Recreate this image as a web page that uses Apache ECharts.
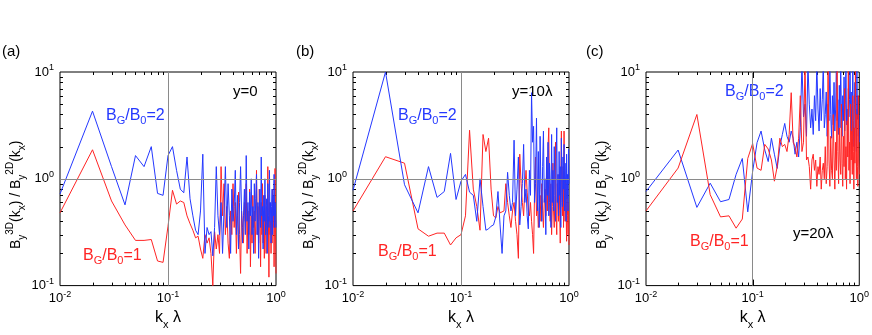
<!DOCTYPE html>
<html lang="en">
  <head>
    <meta charset="UTF-8" />
    <title>By 3D / 2D spectra ratio</title>
    <script src="https://cdn.jsdelivr.net/npm/echarts@6.0.0/dist/echarts.min.js"></script>
  </head>
  <body style="margin: 0">
    <style>
      #chart {
        width: 872px;
        height: 335px;
      }
    </style>
    <div id="chart"></div>

    <script>
      // k_x lambda grid
      const kx = [
        0.01, 0.02, 0.03, 0.04, 0.05, 0.06, 0.07, 0.08, 0.09, 0.1,
        0.11, 0.12, 0.13, 0.14, 0.15, 0.16, 0.17, 0.18, 0.19, 0.2,
        0.21, 0.22, 0.23, 0.24, 0.25, 0.26, 0.27, 0.28, 0.29, 0.3,
        0.31, 0.32, 0.33, 0.34, 0.35, 0.36, 0.37, 0.38, 0.39, 0.4,
        0.41, 0.42, 0.43, 0.44, 0.45, 0.46, 0.47, 0.48, 0.49, 0.5,
        0.51, 0.52, 0.53, 0.54, 0.55, 0.56, 0.57, 0.58, 0.59, 0.6,
        0.61, 0.62, 0.63, 0.64, 0.65, 0.66, 0.67, 0.68, 0.69, 0.7,
        0.71, 0.72, 0.73, 0.74, 0.75, 0.76, 0.77, 0.78, 0.79, 0.8,
        0.81, 0.82, 0.83, 0.84, 0.85, 0.86, 0.87, 0.88, 0.89, 0.9,
        0.91, 0.92, 0.93, 0.94, 0.95, 0.96, 0.97, 0.98, 0.99, 1.0
      ];

      // (a) y=0
      const blueA = [
        0.72, 4.3, 1.3, 0.57, 1.65, 1.3, 2.0, 0.73, 0.7, 1.65,
        2.0, 1.2, 0.8, 0.74, 1.6, 0.65, 0.45, 0.33, 0.3, 0.5,
        1.7, 0.2, 0.35, 0.3, 0.32, 0.19, 0.35, 1.3, 0.45, 0.3,
        0.6, 0.2, 0.5, 1.3, 0.35, 0.9, 0.45, 0.2, 0.8, 0.4,
        0.55, 1.2, 0.3, 0.7, 0.22, 0.6, 1.3, 0.5, 0.25, 0.45,
        0.8, 0.3, 1.65, 0.4, 0.6, 0.22, 0.75, 0.45, 1.0, 0.3,
        0.55, 0.2, 0.9, 0.4, 0.65, 1.1, 0.3, 0.6, 0.18, 0.5,
        0.8, 0.35, 1.6, 0.45, 0.55, 0.22, 0.7, 0.4, 1.0, 0.3,
        0.5, 0.65, 0.2, 0.9, 0.45, 0.35, 1.2, 0.4, 0.6, 0.25,
        0.55, 0.8, 0.3, 0.7, 0.45, 1.1, 0.35, 0.6, 0.5, 0.35
      ];
      const redA = [
        0.48, 1.87, 0.62, 0.37, 0.265, 0.265, 0.27, 0.17, 0.165, 0.36,
        0.78, 0.58, 0.62, 0.6, 0.45, 0.38, 0.33, 0.28, 0.29, 0.22,
        0.18, 0.3, 0.25, 0.28, 0.2, 0.1, 0.32, 0.22, 0.3, 0.2,
        1.3, 0.45, 0.9, 0.3, 0.55, 0.25, 0.18, 0.5, 0.3, 0.9,
        0.35, 0.6, 0.2, 0.45, 0.75, 0.3, 0.13, 0.5, 0.35, 0.25,
        0.6, 0.4, 0.9, 0.2, 0.5, 0.3, 0.8, 0.15, 0.45, 0.25,
        0.7, 0.35, 0.5, 0.2, 0.4, 1.2, 0.3, 0.55, 0.25, 0.8,
        0.4, 0.15, 0.6, 0.3, 0.9, 0.25, 0.5, 0.18, 0.7, 0.35,
        0.2, 0.55, 0.3, 1.3, 0.45, 0.12, 0.6, 0.3, 0.4, 0.2,
        0.5, 0.25, 0.8, 0.35, 0.6, 0.15, 0.45, 1.25, 0.3, 0.13
      ];

      // (b) y=10 lambda
      const blueB = [
        0.78, 10, 0.88, 0.48, 1.3, 0.67, 0.76, 1.73, 0.64, 0.95,
        1.1, 0.75, 0.7, 0.4, 1.0, 0.55, 0.33, 0.34, 0.36, 0.37,
        0.44, 0.76, 0.37, 0.2, 0.45, 0.5, 1.15, 0.7, 0.5, 0.6,
        2.3, 0.45, 0.8, 1.6, 0.37, 0.55, 0.9, 2.1, 0.6, 0.8,
        0.45, 0.34, 1.2, 0.7, 6.4, 2.2, 3.1, 0.6, 0.9, 3.7,
        0.5, 1.8, 0.35, 2.5, 0.8, 0.4, 1.3, 2.8, 0.6, 1.0,
        0.3, 1.6, 0.7, 2.2, 0.45, 1.4, 0.9, 0.35, 2.6, 0.6,
        1.2, 0.5, 2.0, 0.8, 0.4, 1.5, 3.0, 0.6, 1.1, 0.45,
        1.8, 0.7, 1.3, 0.35, 2.4, 0.9, 0.55, 1.6, 0.8, 2.1,
        0.5, 1.4, 0.9, 0.4, 1.7, 0.65, 1.1, 0.5, 1.9, 0.9
      ];
      const redB = [
        0.5, 1.61, 1.4, 0.34, 0.29, 0.31, 0.31, 0.24, 0.28, 0.3,
        0.45, 2.85, 0.8, 0.55, 0.33, 2.6, 1.8, 2.4, 0.8, 0.45,
        0.43, 0.55, 0.48, 0.5, 0.5, 0.9, 0.6, 0.45, 0.35, 0.5,
        0.6, 0.4, 0.3, 0.18, 1.7, 0.9, 0.6, 0.45, 0.8, 1.2,
        0.75, 0.5, 0.45, 0.6, 0.4, 0.3, 0.2, 0.8, 1.6, 0.45,
        0.6, 0.35, 0.5, 0.7, 0.4, 0.9, 0.5, 0.35, 0.6, 0.8,
        0.45, 1.2, 0.5, 2.0, 3.0, 0.6, 0.4, 0.9, 0.3, 0.55,
        1.4, 0.5, 0.35, 0.7, 2.2, 0.45, 0.3, 0.9, 0.6, 0.4,
        1.1, 0.5, 0.25, 0.8, 2.8, 0.6, 0.45, 1.3, 0.35, 2.8,
        0.7, 0.4, 1.0, 0.5, 0.26, 0.9, 0.45, 0.3, 0.6, 0.24
      ];

      // (c) y=20 lambda
      const blueC = [
        0.76, 1.86, 0.54, 0.91, 0.61, 0.64, 1.1, 1.55, 0.49, 1.17,
        2.18, 2.8, 1.86, 1.45, 2.4, 1.7, 1.25, 2.0, 2.6, 3.3,
        2.5, 2.2, 2.8, 2.4, 1.7, 2.2, 1.6, 3.0, 12, 3.8,
        5.0, 2.5, 12, 5.0, 3.0, 4.5, 2.6, 6.0, 3.5, 12,
        4.5, 2.8, 7.0, 3.5, 5.5, 12, 3.0, 4.0, 6.5, 2.5,
        5.0, 3.5, 12, 4.0, 2.4, 6.0, 3.2, 8.0, 2.8, 4.5,
        12, 3.5, 5.5, 2.6, 7.5, 3.0, 12, 4.0, 2.5, 6.0,
        3.5, 9.0, 2.8, 5.0, 12, 3.2, 4.5, 2.2, 7.0, 3.8,
        5.5, 12, 3.0, 6.5, 2.6, 4.2, 12, 3.5, 2.0, 5.0,
        8.0, 3.0, 4.5, 1.8, 12, 3.6, 6.0, 2.5, 4.0, 2.2
      ];
      const redC = [
        0.5, 1.26, 4.0, 0.71, 0.44, 0.45, 0.345, 0.42, 1.55, 2.14,
        1.26, 1.2, 2.1, 1.9, 1.5, 0.95, 1.3, 2.4, 2.0, 2.1,
        1.8, 2.6, 6.4, 2.2, 2.0, 1.6, 2.4, 6.0, 1.8, 2.2,
        12, 1.5, 1.6, 1.3, 0.8, 1.5, 1.7, 1.2, 1.5, 0.85,
        1.3, 1.1, 1.6, 0.8, 1.2, 1.4, 1.0, 2.0, 0.9, 1.3,
        12, 1.5, 0.85, 2.5, 1.2, 1.0, 4.0, 1.6, 0.8, 2.2,
        1.2, 12, 1.8, 0.9, 3.0, 1.5, 1.1, 5.0, 1.4, 0.85,
        2.5, 1.3, 7.0, 1.0, 2.0, 0.8, 3.5, 1.6, 12, 1.2,
        2.2, 0.9, 5.0, 1.5, 2.8, 1.1, 6.0, 1.8, 0.8, 3.0,
        1.4, 12, 2.0, 1.0, 4.0, 1.3, 0.85, 6.0, 1.5, 1.1
      ];

      // tick marks inside the frame
      const xMinorTicks = [0.02, 0.03, 0.04, 0.05, 0.06, 0.07, 0.08, 0.09, 0.2, 0.3, 0.4, 0.5, 0.6, 0.7, 0.8, 0.9];
      const yMinorTicks = [0.2, 0.3, 0.4, 0.5, 0.6, 0.7, 0.8, 0.9, 2, 3, 4, 5, 6, 7, 8, 9];
      const xMajorTicks = [0.1];
      const yMajorTicks = [1];

      const BLUE = '#2438ff';
      const RED = '#ff2424';
      const FONT = 'Liberation Sans, Arial, sans-serif';

      const panels = [
        { tag: '(a)', note: 'y=0', blue: blueA, red: redA, left: 60, redOnTop: false,
          tagPos: [2, 44], notePos: [233, 84], bluePos: [106, 108], redPos: [83, 248] },
        { tag: '(b)', note: 'y=10λ', blue: blueB, red: redB, left: 353, redOnTop: false,
          tagPos: [296, 44], notePos: [512, 84], bluePos: [398, 108], redPos: [378, 244] },
        { tag: '(c)', note: 'y=20λ', blue: blueC, red: redC, left: 646, redOnTop: true,
          tagPos: [586, 44], notePos: [793, 226], bluePos: [725, 84], redPos: [690, 234] }
      ];

      const tickRich = {
        b: { fontSize: 13, lineHeight: 18, fontFamily: FONT, color: '#000' },
        s: { fontSize: 9, lineHeight: 9, verticalAlign: 'top', fontFamily: FONT, color: '#000' }
      };
      const nameRich = {
        b: { fontSize: 14, lineHeight: 22, fontFamily: FONT, color: '#000' },
        sub: { fontSize: 10, lineHeight: 10, verticalAlign: 'bottom', fontFamily: FONT, color: '#000' },
        sup: { fontSize: 10, lineHeight: 10, verticalAlign: 'top', fontFamily: FONT, color: '#000' }
      };
      const xNameRich = {
        b: { fontSize: 16, lineHeight: 24, fontFamily: FONT, color: '#000' },
        sub: { fontSize: 11, lineHeight: 11, verticalAlign: 'bottom', fontFamily: FONT, color: '#000' }
      };
      function labelRich(color) {
        return {
          b: { fontSize: 16, lineHeight: 20, fontFamily: FONT, color: color },
          s: { fontSize: 11, lineHeight: 11, verticalAlign: 'bottom', fontFamily: FONT, color: color }
        };
      }
      const powLabel = (v) => '{b|10}{s|' + Math.round(Math.log10(v)) + '}';

      const tickData = [];
      xMinorTicks.forEach((v) => tickData.push([v, 1, 0, 0]));
      xMajorTicks.forEach((v) => tickData.push([v, 1, 0, 1]));
      yMinorTicks.forEach((v) => tickData.push([0.1, v, 1, 0]));
      yMajorTicks.forEach((v) => tickData.push([0.1, v, 1, 1]));

      function renderTick(params, api) {
        const cs = params.coordSys;
        const isY = api.value(2) === 1;
        const len = api.value(3) === 1 ? 6 : 3;
        const style = { stroke: '#000', lineWidth: 1 };
        if (!isY) {
          const x = Math.round(api.coord([api.value(0), 1])[0]) + 0.5;
          const b = cs.y + cs.height;
          return {
            type: 'group',
            children: [
              { type: 'line', shape: { x1: x, y1: b, x2: x, y2: b - len }, style },
              { type: 'line', shape: { x1: x, y1: cs.y, x2: x, y2: cs.y + len }, style }
            ]
          };
        }
        const y = Math.round(api.coord([0.1, api.value(1)])[1]) + 0.5;
        const r = cs.x + cs.width;
        return {
          type: 'group',
          children: [
            { type: 'line', shape: { x1: cs.x, y1: y, x2: cs.x + len, y2: y }, style },
            { type: 'line', shape: { x1: r, y1: y, x2: r - len, y2: y }, style }
          ]
        };
      }

      const grid = [], xAxis = [], yAxis = [], series = [], graphic = [];

      panels.forEach((p, i) => {
        grid.push({
          left: p.left, top: 72, width: 216, height: 216,
          show: true, borderColor: '#000', borderWidth: 1, backgroundColor: 'transparent'
        });
        xAxis.push({
          type: 'log', logBase: 10, min: 0.01, max: 1, gridIndex: i,
          axisLine: { show: false }, axisTick: { show: false }, splitLine: { show: false },
          axisLabel: { formatter: powLabel, rich: tickRich, margin: 4 },
          name: '{b|k}{sub|x}{b| λ}', nameLocation: 'middle', nameGap: 16,
          nameTextStyle: { rich: xNameRich }
        });
        yAxis.push({
          type: 'log', logBase: 10, min: 0.1, max: 10, gridIndex: i,
          axisLine: { show: false }, axisTick: { show: false }, splitLine: { show: false },
          axisLabel: { formatter: powLabel, rich: tickRich, margin: 6 },
          name: '{b|B}{sub|y}{sup|3D}{b|(k}{sub|x}{b|) / B}{sub|y}{sup|2D}{b|(k}{sub|x}{b|)}',
          nameLocation: 'middle', nameGap: 26, nameRotate: 90,
          nameTextStyle: { rich: nameRich, padding: [0, 32, 0, 0] }
        });
        series.push({
          type: 'custom', xAxisIndex: i, yAxisIndex: i, silent: true, z: 1,
          renderItem: renderTick, data: tickData,
          markLine: {
            silent: true, symbol: 'none', label: { show: false },
            lineStyle: { color: '#8a8a8a', width: 1, type: 'solid' },
            data: [{ xAxis: 0.1 }, { yAxis: 1 }]
          }
        });
        series.push({
          type: 'line', xAxisIndex: i, yAxisIndex: i, showSymbol: false, z: p.redOnTop ? 3 : 4,
          lineStyle: { color: BLUE, width: 1 }, itemStyle: { color: BLUE },
          data: p.blue.map((v, j) => [kx[j], v])
        });
        series.push({
          type: 'line', xAxisIndex: i, yAxisIndex: i, showSymbol: false, z: p.redOnTop ? 4 : 3,
          lineStyle: { color: RED, width: 1 }, itemStyle: { color: RED },
          data: p.red.map((v, j) => [kx[j], v])
        });
        graphic.push(
          { type: 'text', left: p.tagPos[0], top: p.tagPos[1],
            style: { text: p.tag, font: '15px ' + FONT, fill: '#000' } },
          { type: 'text', left: p.notePos[0], top: p.notePos[1],
            style: { text: p.note, font: '15px ' + FONT, fill: '#000' } },
          { type: 'text', left: p.bluePos[0], top: p.bluePos[1],
            style: { text: '{b|B}{s|G}{b|/B}{s|0}{b|=2}', rich: labelRich(BLUE), fill: BLUE } },
          { type: 'text', left: p.redPos[0], top: p.redPos[1],
            style: { text: '{b|B}{s|G}{b|/B}{s|0}{b|=1}', rich: labelRich(RED), fill: RED } }
        );
      });

      const chart = echarts.init(document.getElementById('chart'));
      chart.setOption({
        animation: false,
        backgroundColor: '#fff',
        grid, xAxis, yAxis, series, graphic
      });
    </script>
  </body>
</html>
